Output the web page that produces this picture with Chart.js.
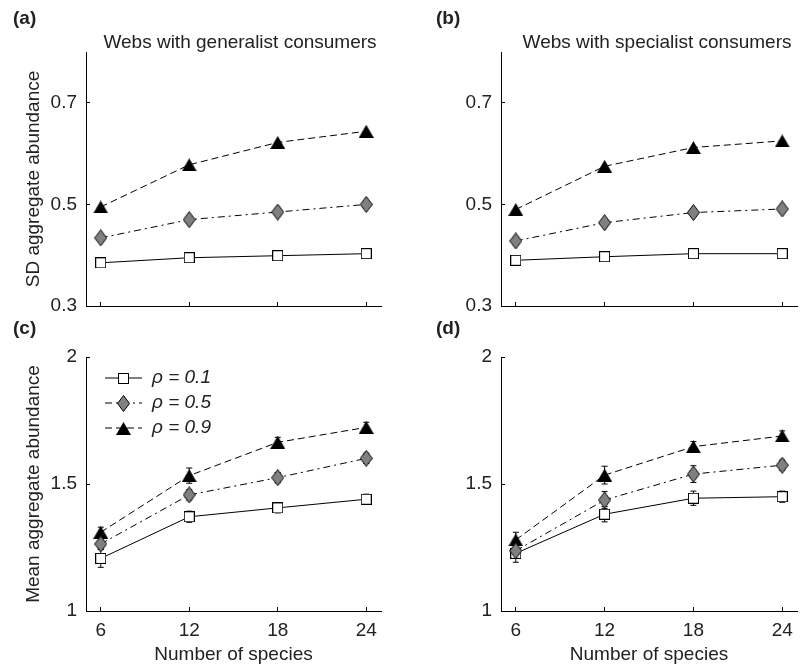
<!DOCTYPE html>
<html>
<head>
<meta charset="utf-8">
<script src="https://cdn.jsdelivr.net/npm/chart.js@4.4.1/dist/chart.umd.min.js"></script>
<style>
  html, body { margin: 0; padding: 0; background: #fff; }
  body { width: 802px; height: 667px; position: relative; overflow: hidden;
         font-family: "Liberation Sans", Arial, sans-serif; color: #222; }
  canvas { position: absolute; }
  .txt { position: absolute; font-size: 19px; line-height: 19px; white-space: nowrap; z-index: 2; }
  .panel { font-weight: bold; }
  .centro { transform: translateX(-50%); }
</style>
</head>
<body>
<canvas id="graficoA" width="401" height="320" style="left:0;top:0"></canvas>
<canvas id="graficoB" width="401" height="320" style="left:401px;top:0"></canvas>
<canvas id="graficoC" width="401" height="347" style="left:0;top:320px"></canvas>
<canvas id="graficoD" width="401" height="347" style="left:401px;top:320px"></canvas>

<div class="txt panel" style="left:13px;top:8px">(a)</div>
<div class="txt panel" style="left:436px;top:8px">(b)</div>
<div class="txt panel" style="left:13px;top:318px">(c)</div>
<div class="txt panel" style="left:436px;top:318px">(d)</div>
<div class="txt centro" style="left:240px;top:32px">Webs with generalist consumers</div>
<div class="txt centro" style="left:657px;top:32px">Webs with specialist consumers</div>

<script>
// ---- datos ----
const especies = [6, 12, 18, 24];
const etiquetasRho = ['ρ = 0.1', 'ρ = 0.5', 'ρ = 0.9'];
const ticksSD = [0.3, 0.5, 0.7];
const ticksMedia = [1, 1.5, 2];

// (a) SD, consumidores generalistas
const sdGen01 = [0.385, 0.395, 0.399, 0.403];
const sdGen05 = [0.434, 0.470, 0.485, 0.500];
const sdGen09 = [0.495, 0.578, 0.622, 0.644];
// (b) SD, consumidores especialistas
const sdEsp01 = [0.390, 0.397, 0.403, 0.403];
const sdEsp05 = [0.428, 0.464, 0.484, 0.491];
const sdEsp09 = [0.490, 0.575, 0.612, 0.625];
// (c) media, generalistas (+ barras de error)
const mediaGen01 = [1.207, 1.371, 1.406, 1.440];
const mediaGen05 = [1.264, 1.457, 1.525, 1.601];
const mediaGen09 = [1.310, 1.533, 1.664, 1.723];
const errGen01 = [0.035, 0.022, 0.020, 0.020];
const errGen05 = [0.020, 0.020, 0.020, 0.020];
const errGen09 = [0.020, 0.030, 0.020, 0.020];
// (d) media, especialistas
const mediaEsp01 = [1.227, 1.381, 1.444, 1.450];
const mediaEsp05 = [1.237, 1.437, 1.539, 1.574];
const mediaEsp09 = [1.280, 1.535, 1.647, 1.689];
const errEsp01 = [0.035, 0.030, 0.028, 0.022];
const errEsp05 = [0.030, 0.033, 0.033, 0.020];
const errEsp09 = [0.030, 0.035, 0.020, 0.020];

Chart.defaults.font.family = '"Liberation Sans", Arial, sans-serif';
Chart.defaults.font.size = 19;
Chart.defaults.color = '#222';

// marcadores dibujados en un canvas pequeño (estilo MATLAB)
function marcador(w, h, dibujar) {
    const c = document.createElement('canvas');
    c.width = w; c.height = h;
    dibujar(c.getContext('2d'), w, h);
    return c;
}
const cuadrado = marcador(11, 11, (g, w, h) => {
    g.fillStyle = '#fff'; g.strokeStyle = '#000'; g.lineWidth = 1;
    g.fillRect(0.5, 0.5, w - 1, h - 1); g.strokeRect(0.5, 0.5, w - 1, h - 1);
});
const rombo = marcador(13, 17, (g, w, h) => {
    g.beginPath();
    g.moveTo(w / 2, 0.5); g.lineTo(w - 0.5, h / 2); g.lineTo(w / 2, h - 0.5); g.lineTo(0.5, h / 2);
    g.closePath();
    g.fillStyle = '#808080'; g.fill(); g.strokeStyle = '#000'; g.lineWidth = 1; g.stroke();
});
const triangulo = marcador(15, 13, (g, w, h) => {
    g.beginPath();
    g.moveTo(w / 2, 0); g.lineTo(w, h); g.lineTo(0, h);
    g.closePath();
    g.fillStyle = '#000'; g.fill();
});

const estilos = [
    { marca: cuadrado, guion: [], orden: 1 },
    { marca: rombo, guion: [7, 4, 2, 4], orden: 0 },
    { marca: triangulo, guion: [7, 4], orden: 2 }
];

function series(valores, errores) {
    return valores.map((v, i) => ({
        label: etiquetasRho[i],
        data: especies.map((x, j) => ({ x: x, y: v[j] })),
        errores: errores ? errores[i] : null,
        order: estilos[i].orden,
        borderColor: '#000',
        borderWidth: 1,
        borderDash: estilos[i].guion,
        pointStyle: estilos[i].marca,
        pointRadius: 7,
        pointHoverRadius: 7,
        fill: false,
        tension: 0,
        clip: false
    }));
}

// barras de error con remate
const barrasError = {
    id: 'barrasError',
    beforeDatasetsDraw(chart) {
        const { ctx, scales: { x, y } } = chart;
        ctx.save();
        ctx.strokeStyle = '#000';
        ctx.lineWidth = 1;
        chart.data.datasets.forEach(ds => {
            if (!ds.errores) return;
            ds.data.forEach((p, j) => {
                const px = x.getPixelForValue(p.x);
                const y1 = y.getPixelForValue(p.y - ds.errores[j]);
                const y2 = y.getPixelForValue(p.y + ds.errores[j]);
                ctx.beginPath();
                ctx.moveTo(px, y1); ctx.lineTo(px, y2);
                ctx.moveTo(px - 3, y1); ctx.lineTo(px + 3, y1);
                ctx.moveTo(px - 3, y2); ctx.lineTo(px + 3, y2);
                ctx.stroke();
            });
        });
        ctx.restore();
    }
};

// leyenda dentro del area (solo panel c)
const leyenda = {
    id: 'leyenda',
    afterDraw(chart, args, opts) {
        if (!opts.mostrar) return;
        const { ctx, chartArea } = chart;
        chart.data.datasets.forEach((ds, i) => {
            const yy = chartArea.top + 21 + i * 25;
            const x0 = chartArea.left + 19, x1 = chartArea.left + 56;
            ctx.save();
            ctx.strokeStyle = '#000';
            ctx.lineWidth = 1;
            ctx.setLineDash(ds.borderDash);
            ctx.beginPath(); ctx.moveTo(x0, yy); ctx.lineTo(x1, yy); ctx.stroke();
            ctx.setLineDash([]);
            const m = ds.pointStyle;
            ctx.drawImage(m, Math.round((x0 + x1) / 2 - m.width / 2), Math.round(yy - m.height / 2));
            ctx.fillStyle = '#222';
            ctx.font = 'italic 19px "Liberation Sans", Arial, sans-serif';
            ctx.textBaseline = 'middle';
            ctx.fillText(ds.label, chartArea.left + 66, yy);
            ctx.restore();
        });
    }
};

function ejes(yTicks, yMin, yMax, yTitulo, anchoY, conEtiquetasX) {
    return {
        x: {
            type: 'linear', min: 5, max: 25,
            afterBuildTicks: s => { s.ticks = especies.map(v => ({ value: v })); },
            afterFit: s => {
                s.height = conEtiquetasX ? 56 : 14;
                s.paddingLeft = s.paddingRight = s.paddingTop = s.paddingBottom = 0;
            },
            border: { display: true, color: '#000', width: 1 },
            grid: { drawOnChartArea: false, tickLength: -4, tickColor: '#000', tickWidth: 1 },
            ticks: { display: conEtiquetasX, padding: 12, maxRotation: 0, autoSkip: false },
            title: { display: conEtiquetasX, text: 'Number of species', padding: { top: 0, bottom: 1 } }
        },
        y: {
            type: 'linear', min: yMin, max: yMax,
            afterBuildTicks: s => { s.ticks = yTicks.map(v => ({ value: v })); },
            afterFit: s => {
                s.width = anchoY;
                s.paddingLeft = s.paddingRight = s.paddingTop = s.paddingBottom = 0;
            },
            border: { display: true, color: '#000', width: 1 },
            grid: { drawOnChartArea: false, tickLength: -4, tickColor: '#000', tickWidth: 1 },
            ticks: { padding: 13, autoSkip: false, callback: v => String(v) },
            title: { display: !!yTitulo, text: yTitulo || '', padding: { top: 22, bottom: 0 } }
        }
    };
}

function crear(id, datasets, escalas, padding, conLeyenda) {
    return new Chart(document.getElementById(id), {
        type: 'line',
        data: { datasets: datasets },
        options: {
            responsive: false,
            animation: false,
            events: [],
            layout: { padding: padding, autoPadding: false },
            scales: escalas,
            plugins: {
                legend: { display: false },
                tooltip: { enabled: false },
                leyenda: { mostrar: !!conLeyenda }
            }
        },
        plugins: [barrasError, leyenda]
    });
}

window.graficoA = crear('graficoA', series([sdGen01, sdGen05, sdGen09]),
    ejes(ticksSD, 0.3, 0.8, 'SD aggregate abundance', 86, false),
    { top: 52, right: 20, bottom: 0, left: 0 });
window.graficoB = crear('graficoB', series([sdEsp01, sdEsp05, sdEsp09]),
    ejes(ticksSD, 0.3, 0.8, null, 100, false),
    { top: 52, right: 5, bottom: 0, left: 0 });
window.graficoC = crear('graficoC', series([mediaGen01, mediaGen05, mediaGen09], [errGen01, errGen05, errGen09]),
    ejes(ticksMedia, 1, 2, 'Mean aggregate abundance', 86, true),
    { top: 37, right: 20, bottom: 0, left: 0 }, true);
window.graficoD = crear('graficoD', series([mediaEsp01, mediaEsp05, mediaEsp09], [errEsp01, errEsp05, errEsp09]),
    ejes(ticksMedia, 1, 2, null, 100, true),
    { top: 37, right: 5, bottom: 0, left: 0 });
</script>
</body>
</html>
